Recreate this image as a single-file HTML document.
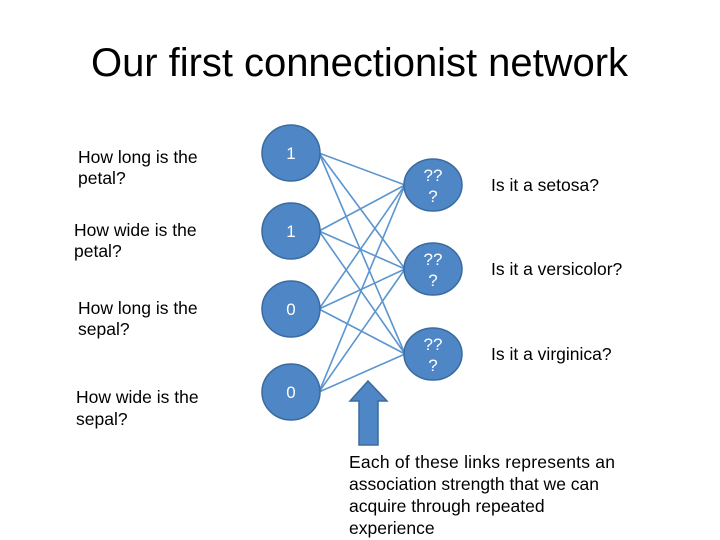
<!DOCTYPE html>
<html><head><style>html,body{margin:0;padding:0;background:#fff;}svg{display:block}</style></head>
<body>
<svg width="720" height="540" viewBox="0 0 720 540" xmlns="http://www.w3.org/2000/svg" font-family="Liberation Sans, Arial, sans-serif">
<text x="91" y="76" font-size="40" textLength="537" fill="#000">Our first connectionist network</text>
<g font-size="17.5" fill="#000">
<text x="78" y="163">How long is the</text><text x="78" y="184">petal?</text>
<text x="74" y="236">How wide is the</text><text x="74" y="257">petal?</text>
<text x="78" y="314">How long is the</text><text x="78" y="335">sepal?</text>
<text x="76" y="403">How wide is the</text><text x="76" y="425">sepal?</text>
<text x="491" y="191">Is it a setosa?</text>
<text x="491" y="275">Is it a versicolor?</text>
<text x="491" y="360">Is it a virginica?</text>
</g>
<g stroke="#5b95cf" stroke-width="1.6">
<line x1="319" y1="153" x2="405" y2="185"/><line x1="319" y1="153" x2="405" y2="269"/><line x1="319" y1="153" x2="405" y2="354"/>
<line x1="319" y1="231" x2="405" y2="185"/><line x1="319" y1="231" x2="405" y2="269"/><line x1="319" y1="231" x2="405" y2="354"/>
<line x1="319" y1="309" x2="405" y2="185"/><line x1="319" y1="309" x2="405" y2="269"/><line x1="319" y1="309" x2="405" y2="354"/>
<line x1="319" y1="392" x2="405" y2="185"/><line x1="319" y1="392" x2="405" y2="269"/><line x1="319" y1="392" x2="405" y2="354"/>
</g>
<g fill="#4f86c6" stroke="#3a6b9f" stroke-width="1.5">
<ellipse cx="291" cy="153" rx="29" ry="28"/><ellipse cx="291" cy="231" rx="29" ry="28"/>
<ellipse cx="291" cy="309" rx="29" ry="28"/><ellipse cx="291" cy="392" rx="29" ry="28"/>
<ellipse cx="433" cy="185" rx="29" ry="26"/><ellipse cx="433" cy="269" rx="29" ry="26"/><ellipse cx="433" cy="354" rx="29" ry="26"/>
<polygon points="368,381 387,401 378,401 378,445 359,445 359,401 350,401"/>
</g>
<g font-size="17" fill="#fff" text-anchor="middle">
<text x="291" y="159">1</text><text x="291" y="237">1</text><text x="291" y="315">0</text><text x="291" y="398">0</text>
<text x="433" y="181">??</text><text x="433" y="202">?</text>
<text x="433" y="265">??</text><text x="433" y="286">?</text>
<text x="433" y="350">??</text><text x="433" y="371">?</text>
</g>
<g font-size="17.5" fill="#000">
<text x="349" y="468" textLength="266">Each of these links represents an</text>
<text x="349" y="490">association strength that we can</text>
<text x="349" y="512">acquire through repeated</text>
<text x="349" y="534">experience</text>
</g>
</svg>
</body></html>
